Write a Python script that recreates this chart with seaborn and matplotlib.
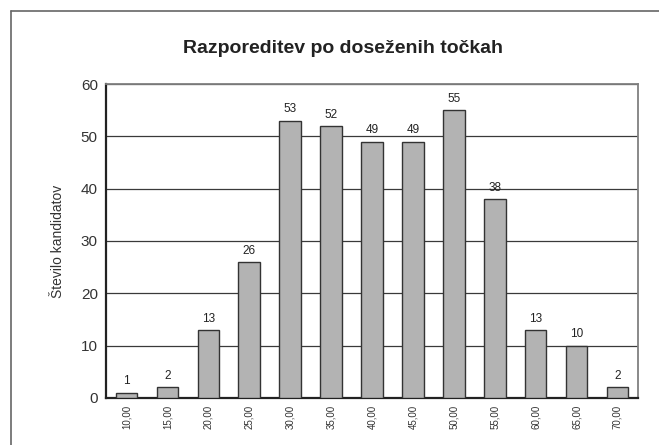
import matplotlib
matplotlib.use("Agg")
import matplotlib.pyplot as plt
import seaborn as sns
import pandas as pd
from matplotlib.lines import Line2D
from matplotlib import font_manager

categories = ["10,00", "15,00", "20,00", "25,00", "30,00", "35,00", "40,00",
              "45,00", "50,00", "55,00", "60,00", "65,00", "70,00"]
counts = [1, 2, 13, 26, 53, 52, 49, 49, 55, 38, 13, 10, 2]
y_ticks = [0, 10, 20, 30, 40, 50, 60]

sns.set_theme(style="white")
plt.rcParams['font.family'] = ['Liberation Sans', 'DejaVu Sans']

names = {f.name for f in font_manager.fontManager.ttflist}
narrow = 'Liberation Sans Narrow' if 'Liberation Sans Narrow' in names else 'Liberation Sans'

df = pd.DataFrame({"cat": categories, "n": counts})

fig = plt.figure(figsize=(6.59, 4.45), dpi=100, facecolor="white")
ax = fig.add_axes([0.161, 0.106, 0.807, 0.705])

sns.barplot(data=df, x="cat", y="n", ax=ax, color="#b3b3b3", width=0.53,
            edgecolor="#333333", linewidth=1.0, saturation=1, zorder=3)

ax.set_ylim(0, 60)
ax.set_yticks(y_ticks)
ax.yaxis.grid(True, color="#3a3a3a", linewidth=0.9, zorder=0)
ax.set_axisbelow(True)
ax.set_xlim(-0.5, len(categories) - 0.5)

for i, v in enumerate(counts):
    ax.text(i, v + 1.0, str(v), ha="center", va="bottom", fontsize=8.5,
            color="#222222", family=[narrow, 'DejaVu Sans'])

ax.set_xlabel("")
ax.set_ylabel("Število kandidatov", fontsize=10, color="#333333", labelpad=11)
ax.tick_params(axis="y", labelsize=11, colors="#333333", length=0, pad=6)
ax.tick_params(axis="x", labelsize=7, colors="#333333", length=0, pad=5, rotation=90)
for lab in ax.get_xticklabels() + ax.get_yticklabels():
    lab.set_family([narrow, 'DejaVu Sans'])

for s in ["left", "bottom"]:
    ax.spines[s].set_color("#222222")
    ax.spines[s].set_linewidth(1.6)
for s in ["top", "right"]:
    ax.spines[s].set_color("#808080")
    ax.spines[s].set_linewidth(1.3)

fig.text(0.520, 0.892, "Razporeditev po doseženih točkah", ha="center", va="center",
         fontsize=14, fontweight="bold", color="#222222")

# outer frame (top and left)
fig.add_artist(Line2D([0.017, 1.0], [0.975, 0.975], transform=fig.transFigure,
                      color="#666666", linewidth=1.2))
fig.add_artist(Line2D([0.017, 0.017], [0.0, 0.975], transform=fig.transFigure,
                      color="#666666", linewidth=1.2))

fig.savefig("out.png", dpi=100, facecolor="white")
